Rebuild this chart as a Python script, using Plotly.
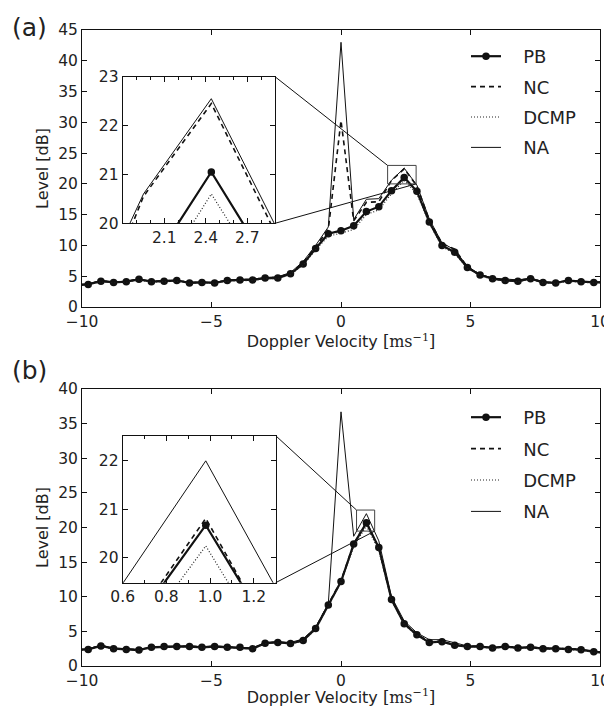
import plotly.graph_objects as go

# ---------------- data ----------------
velocity = [-10.24, -9.76, -9.27, -8.78, -8.29, -7.80, -7.32, -6.83, -6.34, -5.85,
            -5.37, -4.88, -4.39, -3.90, -3.41, -2.93, -2.44, -1.95, -1.46, -0.98,
            -0.49, 0.0, 0.49, 0.98, 1.46, 1.95, 2.44, 2.93, 3.41, 3.90,
            4.39, 4.88, 5.37, 5.85, 6.34, 6.83, 7.32, 7.80, 8.29, 8.78,
            9.27, 9.76, 10.24]

# panel (a)
pb_a = [3.5, 3.65, 4.2, 4.0, 4.1, 4.5, 4.1, 4.2, 4.3, 3.9,
        4.0, 3.9, 4.3, 4.4, 4.4, 4.7, 4.7, 5.4, 7.0, 9.5,
        11.9, 12.4, 13.2, 15.5, 16.3, 18.9, 21.05, 18.8, 13.8, 10.0,
        8.9, 6.4, 5.2, 4.6, 4.3, 4.2, 4.6, 4.0, 3.9, 4.3,
        4.1, 4.0, 4.0]
nc_a = [3.55, 3.7, 4.25, 4.05, 4.15, 4.55, 4.15, 4.25, 4.35, 3.95,
        4.05, 3.95, 4.35, 4.45, 4.45, 4.75, 4.8, 5.5, 7.2, 9.8,
        12.6, 30.3, 14.0, 17.0, 17.1, 20.55, 22.45, 19.65, 14.1, 10.3,
        9.4, 6.5, 5.25, 4.65, 4.4, 4.3, 4.65, 4.05, 3.95, 4.35,
        4.1, 4.05, 4.05]
dcmp_a = [3.45, 3.6, 4.1, 3.95, 4.05, 4.4, 4.05, 4.15, 4.2, 3.85,
          3.95, 3.85, 4.2, 4.3, 4.3, 4.6, 4.6, 5.3, 6.8, 9.3,
          11.5, 12.0, 12.6, 15.0, 15.8, 18.4, 20.6, 18.4, 13.6, 9.8,
          8.7, 6.3, 5.1, 4.5, 4.2, 4.1, 4.5, 3.95, 3.85, 4.2,
          4.0, 3.95, 3.95]
na_a = [3.7, 3.8, 4.3, 4.1, 4.2, 4.6, 4.2, 4.3, 4.4, 4.0,
        4.1, 4.0, 4.4, 4.5, 4.5, 4.8, 4.9, 5.6, 7.4, 10.0,
        13.0, 43.0, 14.2, 17.5, 17.6, 20.6, 22.55, 19.8, 14.3, 10.4,
        9.3, 6.6, 5.3, 4.7, 4.5, 4.4, 4.7, 4.1, 4.0, 4.4,
        4.1, 4.1, 4.1]

# panel (b)
pb_b = [2.3, 2.4, 2.9, 2.5, 2.4, 2.3, 2.7, 2.8, 2.8, 2.8,
        2.7, 2.8, 2.7, 2.7, 2.5, 3.3, 3.4, 3.25, 3.7, 5.4,
        8.8, 12.2, 17.6, 20.67, 17.1, 9.6, 6.1, 4.5, 3.4, 3.5,
        3.0, 2.8, 2.8, 2.6, 2.8, 2.6, 2.7, 2.5, 2.5, 2.4,
        2.35, 2.05, 1.9]
nc_b = [2.35, 2.45, 2.95, 2.55, 2.45, 2.35, 2.75, 2.85, 2.85, 2.85,
        2.75, 2.85, 2.75, 2.75, 2.55, 3.35, 3.45, 3.3, 3.8, 5.5,
        8.9, 12.3, 17.62, 20.81, 16.97, 9.7, 6.2, 4.6, 3.5, 3.6,
        3.05, 2.85, 2.85, 2.65, 2.85, 2.65, 2.75, 2.55, 2.55, 2.45,
        2.4, 2.1, 1.95]
dcmp_b = [2.25, 2.35, 2.85, 2.45, 2.35, 2.25, 2.65, 2.75, 2.75, 2.75,
          2.65, 2.75, 2.65, 2.65, 2.45, 3.25, 3.35, 3.2, 3.6, 5.3,
          8.7, 12.1, 17.23, 20.24, 16.7, 9.5, 6.0, 4.4, 3.35, 3.45,
          2.95, 2.75, 2.75, 2.55, 2.75, 2.55, 2.65, 2.45, 2.45, 2.35,
          2.3, 2.0, 1.85]
na_b = [2.4, 2.5, 3.0, 2.6, 2.5, 2.4, 2.8, 2.9, 2.9, 2.9,
        2.8, 2.9, 2.8, 2.8, 2.6, 3.4, 3.5, 3.4, 3.9, 5.6,
        9.0, 36.7, 18.73, 22.0, 18.07, 10.0, 6.5, 4.8, 3.8, 3.8,
        3.3, 2.9, 2.9, 2.7, 2.9, 2.7, 2.8, 2.6, 2.6, 2.5,
        2.45, 2.15, 2.0]

series_names = ["PB", "NC", "DCMP", "NA"]

main_xticks = [-10, -5, 0, 5, 10]
main_a_yticks = [0, 5, 10, 15, 20, 25, 30, 35, 40, 45]
main_b_yticks = [0, 5, 10, 15, 20, 25, 30, 35, 40]

inset_a_xticks = [2.1, 2.4, 2.7]
inset_a_yticks = [20, 21, 22, 23]
inset_b_xticks = [0.6, 0.8, 1.0, 1.2]
inset_b_xlabels = ["0.6", "0.8", "1.0", "1.2"]
inset_b_yticks = [20, 21, 22]

inset_a_xrange = [1.8, 2.9]
inset_a_yrange = [20, 23]
inset_b_xrange = [0.6, 1.3]
inset_b_yrange = [19.48, 22.52]

# ---------------- styles ----------------
FONT = "DejaVu Sans"
styles = {
    "PB": dict(mode="lines+markers", line=dict(color="#111", width=2.2),
               marker=dict(symbol="circle", size=7.5, color="#111")),
    "NC": dict(mode="lines", line=dict(color="#111", width=1.6, dash="5px,4px")),
    "DCMP": dict(mode="lines", line=dict(color="#222", width=1.2, dash="1px,2px")),
    "NA": dict(mode="lines", line=dict(color="#111", width=1.0)),
}

# page body has an 8px default margin: size the figure to fill the rest
OFF = 8
W, H = 612 - OFF, 707 - OFF
def px_x(p):
    return (p - OFF) / W
def px_y(p):
    return 1 - (p - OFF) / H

dom = {
    "xa": [px_x(82), px_x(600)], "ya": [px_y(307), px_y(30)],
    "xb": [px_x(82), px_x(600)], "yb": [px_y(666), px_y(389)],
    "xia": [px_x(122.7), px_x(275)], "yia": [px_y(223.3), px_y(76.7)],
    "xib": [px_x(122.7), px_x(275.7)], "yib": [px_y(582.7), px_y(435.7)],
}

fig = go.Figure()

panels = [
    ("a", [pb_a, nc_a, dcmp_a, na_a], "x", "y", "x2", "y2", "legend"),
    ("b", [pb_b, nc_b, dcmp_b, na_b], "x3", "y3", "x4", "y4", "legend2"),
]

NBSP = "\u00a0"
for label, data, mx, my, ix, iy, leg in panels:
    for name, vals in zip(series_names, data):
        fig.add_trace(go.Scatter(x=velocity, y=vals, name=NBSP * 3 + name, xaxis=mx, yaxis=my,
                                 legend=leg, legendgroup=label + name,
                                 showlegend=True, **styles[name]))
for label, data, mx, my, ix, iy, leg in panels:
    for name, vals in zip(series_names, data):
        fig.add_trace(go.Scatter(x=velocity, y=vals, name=name, xaxis=ix, yaxis=iy,
                                 showlegend=False, **styles[name]))

tickfont = dict(family=FONT, size=15.5, color="#222")
axis_common = dict(showline=True, linecolor="#111", linewidth=1, mirror="ticks",
                   ticks="inside", ticklen=5, tickwidth=1, tickcolor="#111",
                   showgrid=False, zeroline=False, tickfont=tickfont, automargin=False)

xtitle = dict(text='Doppler Velocity <span style="font-family:DejaVu Serif">[ms<sup>−1</sup>]</span>',
              font=dict(family=FONT, size=16, color="#222"), standoff=3)
ytitle = dict(text="Level [dB]", font=dict(family=FONT, size=16, color="#222"), standoff=5)

minor_ticks = dict(ticks="inside", ticklen=3, tickcolor="#111", dtick=0.1, showgrid=False)

legend_style = dict(xanchor="left", yanchor="top",
                    font=dict(family=FONT, size=18, color="#222"), bgcolor="rgba(0,0,0,0)",
                    itemwidth=30)

fig.update_layout(
    width=W, height=H, margin=dict(l=0, r=0, t=0, b=0, autoexpand=False),
    paper_bgcolor="white", plot_bgcolor="white",
    font=dict(family=FONT, color="#222"),
    xaxis=dict(domain=dom["xa"], range=[-10, 10], tickvals=main_xticks, anchor="y",
               title=xtitle, **axis_common),
    yaxis=dict(domain=dom["ya"], range=[0, 45], tickvals=main_a_yticks, anchor="x",
               title=ytitle, **axis_common),
    xaxis2=dict(domain=dom["xia"], range=inset_a_xrange, tickvals=inset_a_xticks,
                anchor="y2", minor=dict(tick0=1.8, **minor_ticks), **axis_common),
    yaxis2=dict(domain=dom["yia"], range=inset_a_yrange, tickvals=inset_a_yticks,
                anchor="x2", **axis_common),
    xaxis3=dict(domain=dom["xb"], range=[-10, 10], tickvals=main_xticks, anchor="y3",
                title=xtitle, **axis_common),
    yaxis3=dict(domain=dom["yb"], range=[0, 40], tickvals=main_b_yticks, anchor="x3",
                title=ytitle, **axis_common),
    xaxis4=dict(domain=dom["xib"], range=inset_b_xrange, tickvals=inset_b_xticks,
                ticktext=inset_b_xlabels,
                anchor="y4", minor=dict(tick0=0.6, **minor_ticks), **axis_common),
    yaxis4=dict(domain=dom["yib"], range=inset_b_yrange, tickvals=inset_b_yticks,
                anchor="x4", **axis_common),
    legend=dict(x=px_x(466), y=px_y(38), tracegroupgap=4, **legend_style),
    legend2=dict(x=px_x(466), y=px_y(399), tracegroupgap=5, **legend_style),
    showlegend=True,
)

# inset indicator rectangles and connector lines
def data_to_paper(v, rng, d):
    return d[0] + (v - rng[0]) / (rng[1] - rng[0]) * (d[1] - d[0])

boxes = [
    (inset_a_xrange, inset_a_yrange, "x", "y", [-10, 10], [0, 45], dom["xa"], dom["ya"], dom["xia"], dom["yia"]),
    (inset_b_xrange, inset_b_yrange, "x3", "y3", [-10, 10], [0, 40], dom["xb"], dom["yb"], dom["xib"], dom["yib"]),
]
for xr, yr, xref, yref, mxr, myr, mdx, mdy, idx, idy in boxes:
    fig.add_shape(type="rect", xref=xref, yref=yref, x0=xr[0], x1=xr[1], y0=yr[0], y1=yr[1],
                  line=dict(color="#444", width=1), layer="above")
    rx0 = data_to_paper(xr[0], mxr, mdx)
    rx1 = data_to_paper(xr[1], mxr, mdx)
    ry0 = data_to_paper(yr[0], myr, mdy)
    ry1 = data_to_paper(yr[1], myr, mdy)
    fig.add_shape(type="line", xref="paper", yref="paper", x0=idx[1], y0=idy[1], x1=rx0, y1=ry1,
                  line=dict(color="#111", width=1), layer="above")
    fig.add_shape(type="line", xref="paper", yref="paper", x0=idx[1], y0=idy[0], x1=rx1, y1=ry0,
                  line=dict(color="#111", width=1), layer="above")

# panel labels
for text, cy in [("(a)", 28), ("(b)", 371)]:
    fig.add_annotation(text=text, xref="paper", yref="paper", x=px_x(29), y=px_y(cy),
                       xanchor="center", yanchor="middle", showarrow=False,
                       font=dict(family=FONT, size=25, color="#222"))

fig.write_html("out.html")
